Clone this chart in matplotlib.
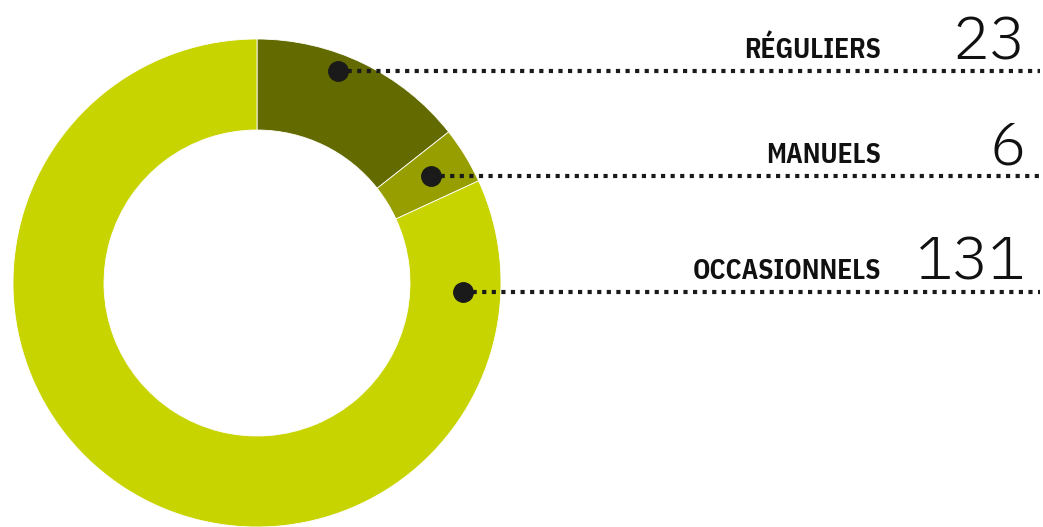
import matplotlib
matplotlib.use("Agg")
import matplotlib.pyplot as plt
import numpy as np
from matplotlib import font_manager

categories = ["RÉGULIERS", "MANUELS", "OCCASIONNELS"]
values = [23, 6, 131]
colors = ["#636b00", "#979e00", "#c8d400"]

W, H = 1043, 527
fig = plt.figure(figsize=(W / 100, H / 100), dpi=100)
ax = fig.add_axes([0, 0, 1, 1])

cx, cy, R, ring = 257, 244, 244, 91
ax.pie(values, colors=colors, startangle=90, counterclock=False,
       center=(cx, cy), radius=R, frame=True,
       wedgeprops=dict(width=ring, linewidth=0.6, edgecolor="white"))
ax.set_xlim(0, W)
ax.set_ylim(0, H)
ax.set_aspect("equal")
ax.axis("off")

avail = {f.name for f in font_manager.fontManager.ttflist}
label_family = [f for f in ["IBM Plex Sans Condensed", "PT Sans Narrow", "Roboto Condensed"] if f in avail] + ["DejaVu Sans"]
num_family = [f for f in ["IBM Plex Mono", "Liberation Mono"] if f in avail] + ["DejaVu Sans Mono"]

total = sum(values)
cum = np.cumsum([0] + values)
mid = [(cum[i] + values[i] / 2) / total * 360 for i in range(3)]
anchor_angles = [21.0, mid[1], 92.5]
anchor_r = [0.93, 0.836, 0.845]
line_end = 1040
label_right = 881
num_right = 1026

for i, cat in enumerate(categories):
    a = np.deg2rad(anchor_angles[i])
    px = cx + anchor_r[i] * R * np.sin(a)
    py = cy + anchor_r[i] * R * np.cos(a)
    ax.plot([px, line_end], [py, py], color="#1a1a1a", lw=3,
            linestyle=(0, (1, 1.3)), dash_capstyle="butt", zorder=3)
    ax.plot(px, py, "o", color="#1a1a1a", ms=14, zorder=4)
    ax.text(label_right, py + 13, cat, ha="right", va="baseline",
            fontsize=19.5, fontweight="bold", family=label_family, color="#111111")
    ax.text(num_right, py + 12, str(values[i]), ha="right", va="baseline",
            fontsize=44, fontweight=300, family=num_family, color="#111111")

fig.savefig("out.png", dpi=100)
